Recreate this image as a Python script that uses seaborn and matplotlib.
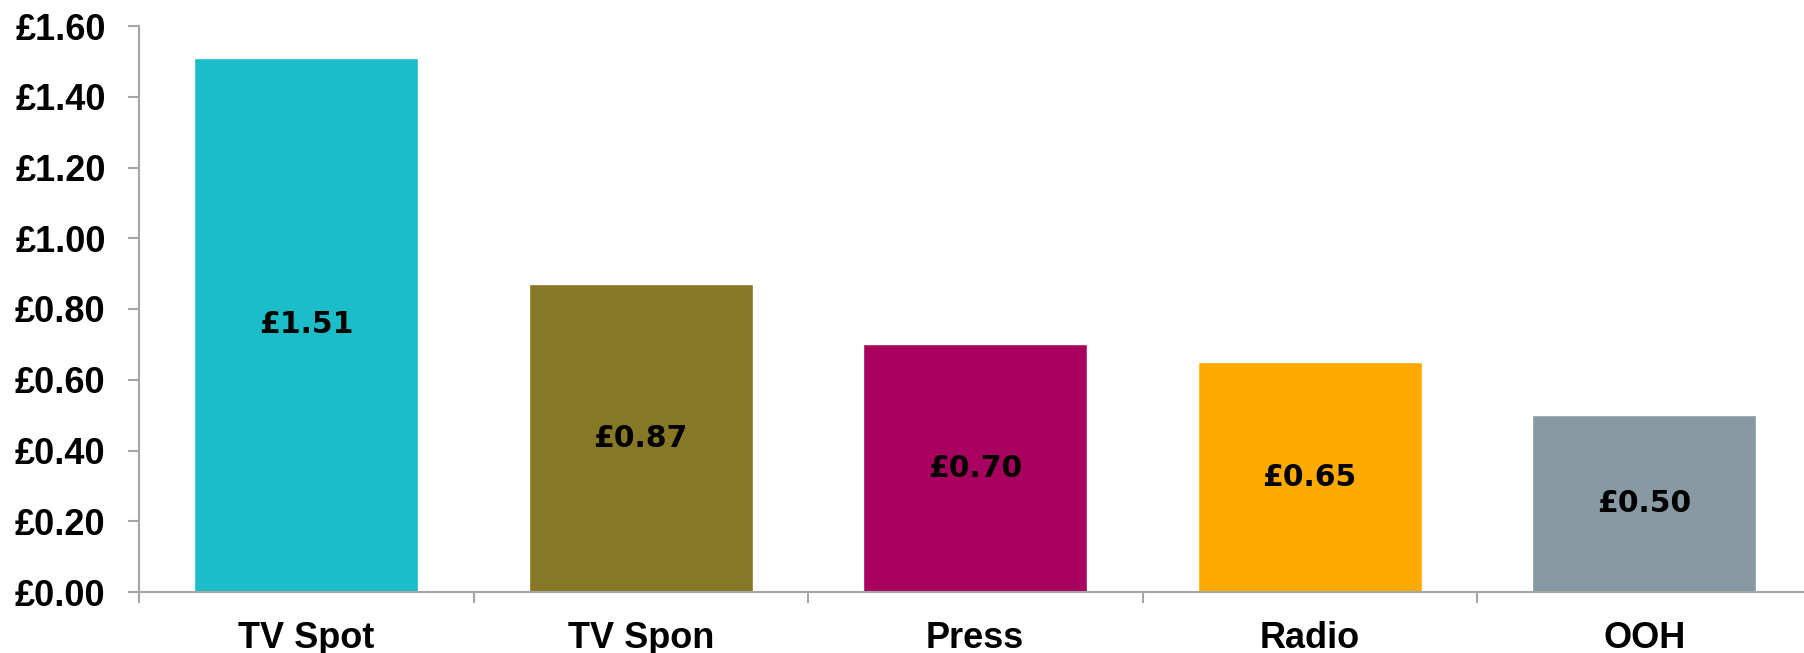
import matplotlib
matplotlib.use("Agg")
import matplotlib.pyplot as plt
import seaborn as sns
import pandas as pd
from matplotlib.ticker import FixedLocator, FuncFormatter

categories = ["TV Spot", "TV Spon", "Press", "Radio", "OOH"]
values = [1.51, 0.87, 0.70, 0.65, 0.50]
colors = ["#1BBDC8", "#877826", "#A8005E", "#FFAA00", "#8799A2"]
y_ticks = [0.0, 0.2, 0.4, 0.6, 0.8, 1.0, 1.2, 1.4, 1.6]

sns.set_theme(style="white")
plt.rcParams["font.family"] = ["Liberation Sans", "DejaVu Sans"]

df = pd.DataFrame({"category": categories, "value": values})

fig = plt.figure(figsize=(18.04, 6.53), dpi=100)
ax = fig.add_axes([139/1804, 1 - 592/653, 1672.5/1804, (592 - 26)/653])

sns.barplot(data=df, x="category", y="value", hue="category", palette=colors,
            width=0.67, saturation=1, legend=False, ax=ax)

ax.set_xlim(-0.5, 4.5)
ax.set_ylim(0, 1.6)
ax.set_xlabel("")
ax.set_ylabel("")

grey = "#A6A6A6"
for s in ["top", "right"]:
    ax.spines[s].set_visible(False)
for s in ["left", "bottom"]:
    ax.spines[s].set_color(grey)
    ax.spines[s].set_linewidth(1.5)

ax.yaxis.set_major_locator(FixedLocator(y_ticks))
ax.yaxis.set_major_formatter(FuncFormatter(lambda v, p: f"£{v:.2f}"))
ax.tick_params(axis="y", which="major", direction="out", length=8, width=1.5,
               color=grey, left=True, pad=16, labelsize=26, labelcolor="black")
for lab in ax.get_yticklabels():
    lab.set_fontweight("bold")

ax.set_xticks(range(len(categories)))
ax.set_xticklabels(categories, fontsize=26, fontweight="bold", color="black")
ax.tick_params(axis="x", which="major", length=0, pad=21)
ax.set_xticks([i - 0.5 for i in range(len(categories) + 1)], minor=True)
ax.tick_params(axis="x", which="minor", direction="out", length=8, width=1.5,
               color=grey, bottom=True)

for i, v in enumerate(values):
    ax.text(i, v / 2, f"£{v:.2f}", ha="center", va="center", fontsize=21.5,
            fontweight="bold", color="black", family="DejaVu Sans")

fig.savefig("out.png", dpi=100)
